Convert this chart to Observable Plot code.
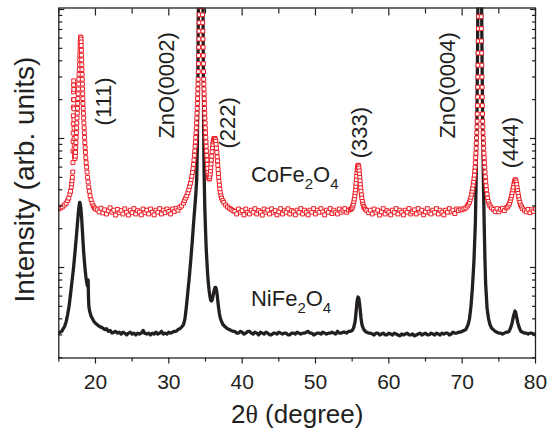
<!DOCTYPE html>
<html><head><meta charset="utf-8">
<script src="https://cdn.jsdelivr.net/npm/d3@7"></script>
<script src="https://cdn.jsdelivr.net/npm/@observablehq/plot@0.6"></script>
<style>html,body{margin:0;padding:0;background:#fff;}</style>
</head><body><div id="chart"></div>
<script>
// ---- data: [2θ (degree), intensity (arb. units)] ----
const niFe2O4 = [
[15.0,0.31],[15.2,0.315],[15.4,0.32],[15.6,0.335],[15.8,0.35],[16.0,0.38],[16.2,0.43],[16.4,0.50],[16.6,0.62],[16.8,0.78],[17.0,0.98],[17.2,1.30],[17.4,1.75],[17.6,2.4],[17.7,2.8],[17.8,3.1],[17.85,3.2],[17.9,3.15],[18.0,2.9],[18.1,2.5],[18.2,2.0],[18.3,1.6],[18.4,1.3],[18.5,1.1],[18.6,0.95],[18.7,0.84],[18.8,0.77],[18.9,0.72],[18.95,0.80],[19.0,0.80],[19.05,0.58],[19.1,0.50],[19.2,0.46],[19.4,0.42],[19.6,0.40],[19.8,0.38],[20.0,0.37],[20.25,0.36],[20.5,0.35],[20.75,0.345],[21.0,0.34],[21.25,0.33],[21.5,0.335],[21.75,0.32],[22.0,0.325],[22.25,0.31],[22.5,0.315],[22.75,0.32],[23.0,0.31],[23.25,0.315],[23.5,0.305],[23.75,0.315],[24.0,0.31],[24.25,0.30],[24.5,0.31],[24.75,0.315],[25.0,0.305],[25.25,0.31],[25.5,0.30],[25.75,0.31],[26.0,0.305],[26.25,0.31],[26.5,0.325],[26.7,0.31],[27.0,0.305],[27.25,0.31],[27.5,0.30],[27.75,0.31],[28.0,0.305],[28.25,0.315],[28.5,0.305],[28.75,0.31],[29.0,0.32],[29.25,0.305],[29.5,0.31],[29.75,0.305],[30.0,0.315],[30.25,0.31],[30.5,0.315],[30.75,0.32],[31.0,0.32],[31.25,0.33],[31.5,0.335],[31.75,0.345],[32.0,0.36],[32.2,0.40],[32.4,0.50],[32.6,0.65],[32.8,0.85],[33.0,1.15],[33.2,1.6],[33.4,2.3],[33.6,3.2],[33.7,3.8],[33.8,4.8],[33.9,9],[33.95,20],[34.0,60],[34.05,150],[34.1,400],[34.2,1200],[34.35,2500],[34.5,1200],[34.6,400],[34.65,150],[34.7,40],[34.75,12],[34.8,6],[34.9,3],[35.0,2.0],[35.1,1.4],[35.2,1.1],[35.3,0.88],[35.4,0.75],[35.5,0.66],[35.6,0.6],[35.7,0.56],[35.8,0.55],[35.9,0.56],[36.0,0.59],[36.1,0.63],[36.2,0.67],[36.3,0.70],[36.4,0.70],[36.5,0.67],[36.6,0.61],[36.7,0.54],[36.8,0.48],[36.9,0.44],[37.0,0.41],[37.2,0.38],[37.4,0.36],[37.6,0.35],[38.0,0.335],[38.25,0.33],[38.5,0.325],[38.75,0.32],[39.0,0.32],[39.25,0.31],[39.5,0.31],[39.75,0.32],[40.0,0.315],[40.25,0.305],[40.5,0.31],[40.75,0.32],[41.0,0.32],[41.25,0.31],[41.5,0.305],[41.75,0.315],[42.0,0.31],[42.25,0.30],[42.5,0.315],[42.75,0.31],[43.0,0.305],[43.25,0.315],[43.5,0.31],[43.75,0.30],[44.0,0.30],[44.25,0.31],[44.5,0.31],[44.75,0.305],[45.0,0.315],[45.25,0.31],[45.5,0.305],[45.75,0.31],[46.0,0.31],[46.25,0.30],[46.5,0.30],[46.75,0.31],[47.0,0.31],[47.25,0.305],[47.5,0.315],[47.75,0.31],[48.0,0.305],[48.25,0.31],[48.5,0.31],[48.75,0.315],[49.0,0.32],[49.25,0.31],[49.5,0.31],[49.75,0.30],[50.0,0.305],[50.25,0.31],[50.5,0.31],[50.75,0.305],[51.0,0.315],[51.25,0.31],[51.5,0.305],[51.75,0.31],[52.0,0.31],[52.25,0.315],[52.5,0.31],[52.75,0.305],[53.0,0.32],[53.25,0.31],[53.5,0.31],[53.75,0.315],[54.0,0.315],[54.25,0.31],[54.5,0.32],[54.75,0.32],[55.0,0.325],[55.2,0.34],[55.4,0.38],[55.5,0.43],[55.6,0.50],[55.7,0.56],[55.8,0.59],[55.9,0.58],[56.0,0.53],[56.1,0.47],[56.2,0.41],[56.3,0.37],[56.4,0.35],[56.6,0.33],[56.8,0.32],[57.0,0.315],[57.25,0.31],[57.5,0.31],[57.75,0.305],[58.0,0.30],[58.25,0.31],[58.5,0.31],[58.75,0.30],[59.0,0.305],[59.25,0.31],[59.5,0.30],[59.75,0.30],[60.0,0.31],[60.25,0.305],[60.5,0.30],[60.75,0.31],[61.0,0.305],[61.25,0.30],[61.5,0.295],[61.75,0.305],[62.0,0.30],[62.25,0.305],[62.5,0.31],[62.75,0.30],[63.0,0.30],[63.25,0.305],[63.5,0.295],[63.75,0.30],[64.0,0.305],[64.25,0.31],[64.5,0.30],[64.75,0.305],[65.0,0.31],[65.25,0.30],[65.5,0.30],[65.75,0.31],[66.0,0.305],[66.25,0.30],[66.5,0.31],[66.75,0.305],[67.0,0.30],[67.25,0.31],[67.5,0.305],[67.75,0.31],[68.0,0.31],[68.25,0.30],[68.5,0.305],[68.75,0.315],[69.0,0.31],[69.25,0.31],[69.5,0.315],[69.75,0.315],[70.0,0.32],[70.25,0.325],[70.5,0.33],[70.8,0.36],[71.0,0.40],[71.2,0.50],[71.4,0.70],[71.6,1.1],[71.8,2.2],[71.9,4.5],[72.0,12],[72.1,50],[72.2,300],[72.4,2500],[72.6,300],[72.7,50],[72.8,12],[72.9,4.5],[73.0,2.2],[73.1,1.2],[73.2,0.75],[73.4,0.48],[73.6,0.40],[73.8,0.36],[74.0,0.34],[74.25,0.33],[74.5,0.32],[74.75,0.315],[75.0,0.31],[75.25,0.31],[75.5,0.305],[75.75,0.31],[76.0,0.315],[76.2,0.315],[76.4,0.32],[76.6,0.34],[76.8,0.37],[77.0,0.42],[77.1,0.44],[77.2,0.46],[77.3,0.45],[77.4,0.42],[77.6,0.37],[77.8,0.34],[78.0,0.32],[78.25,0.315],[78.5,0.31],[78.75,0.31],[79.0,0.305],[79.25,0.31],[79.5,0.31],[79.75,0.305],[80.0,0.30]
];

const coFe2O4 = [
[15.0,2.85],[15.25,2.9],[15.5,2.95],[15.75,3.05],[16.0,3.15],[16.2,3.3],[16.35,3.45],[16.5,3.7],[16.6,3.9],[16.7,4.2],[16.75,4.45],[16.8,4.7],[16.85,5.0],[16.9,5.5],
[16.92,6.5],[16.94,8],[16.95,9.5],[16.96,11],[16.97,13],[16.98,15],[16.99,17.5],[17.0,20],[17.01,23],[17.02,26],[17.03,28],[17.04,24],[17.05,20],[17.06,17],[17.07,14],[17.08,12],[17.09,10],[17.1,8.8],[17.12,7.8],[17.15,7.2],[17.2,7.0],
[17.25,7.3],[17.28,7.8],[17.31,8.5],[17.34,9.3],[17.37,10.2],[17.4,11.1],[17.43,12.1],[17.46,13.2],[17.49,14.4],[17.52,15.7],[17.55,17.1],[17.58,18.7],[17.61,20.4],[17.64,22.2],[17.67,24.2],[17.7,26.4],[17.73,28.8],[17.76,31.4],[17.79,34.2],[17.82,37.3],[17.85,40.7],[17.87,44.3],[17.89,48.3],[17.91,52.6],[17.93,56],[17.95,59],[17.97,61],[18.0,61],[18.02,59],[18.04,56],[18.06,52.6],[18.08,48.3],[18.1,44.3],[18.12,40.7],[18.14,37.3],[18.16,34.2],[18.18,31.4],[18.2,28.8],[18.22,26.4],[18.24,24.2],[18.26,22.2],[18.28,20.4],[18.3,18.7],[18.33,17.1],[18.36,15.7],[18.39,14.4],[18.42,13.2],[18.45,12.1],[18.48,11.1],[18.51,10.2],[18.55,9.3],[18.59,8.5],[18.63,7.8],[18.68,7.1],[18.73,6.5],[18.79,6.0],[18.85,5.5],[18.92,5.0],[19.0,4.6],[19.08,4.2],[19.17,3.9],[19.27,3.6],[19.4,3.35],[19.55,3.15],[19.7,3.0],[19.85,2.9],[20.0,2.85],[20.25,2.8],
[20.5,2.7],[20.75,2.88],[21.0,2.65],[21.25,2.8],[21.5,2.6],[21.75,2.75],[22.0,2.9],[22.25,2.68],[22.5,2.78],[22.75,2.55],[23.0,2.82],[23.25,2.66],[23.5,2.76],[23.75,2.6],[24.0,2.85],[24.25,2.68],[24.5,2.55],[24.75,2.78],[25.0,2.66],[25.25,2.86],[25.5,2.6],[25.75,2.76],[26.0,2.68],[26.25,2.56],[26.5,2.84],[26.75,2.66],[27.0,2.78],[27.25,2.6],[27.5,2.84],[27.75,2.68],[28.0,2.56],[28.25,2.78],[28.5,2.68],[28.75,2.86],[29.0,2.6],[29.25,2.78],[29.5,2.66],[29.75,2.84],[30.0,2.72],[30.25,2.6],[30.5,2.84],[30.75,2.72],[31.0,2.88],[31.25,2.78],[31.5,2.92],[31.75,3.0],
[32.0,3.15],[32.15,3.3],[32.3,3.45],[32.45,3.6],[32.6,3.8],[32.72,4.0],[32.84,4.25],[32.95,4.5],[33.05,4.8],[33.14,5.1],[33.22,5.45],[33.3,5.85],[33.37,6.3],[33.43,6.8],[33.49,7.4],[33.54,8.0],[33.59,8.7],[33.63,9.4],[33.67,10.2],[33.71,11.1],[33.75,12.1],[33.78,13.2],[33.81,14.4],[33.84,15.7],[33.87,17.1],[33.9,18.7],[33.92,20.4],[33.94,22.2],[33.96,24.2],[33.98,26.4],[34.0,28.8],[34.02,33],[34.04,38],[34.06,44],[34.08,51],[34.1,59],[34.12,68],[34.14,79],[34.16,91],[34.18,105],[34.25,400],[34.38,2000],[34.51,400],[34.58,105],[34.6,91],[34.62,79],[34.64,68],[34.66,59],[34.68,51],[34.7,44],[34.72,38],[34.74,33],[34.76,28.8],[34.78,26.4],[34.8,24.2],[34.82,22.2],[34.84,20.4],[34.86,18.7],[34.88,17.1],[34.9,15.7],[34.92,14.4],[34.95,13.2],[34.98,12.1],[35.01,11.1],[35.04,10.2],[35.07,9.4],[35.1,8.7],[35.13,8.0],[35.17,7.4],[35.21,6.8],[35.25,6.3],[35.29,5.85],[35.33,5.45],[35.38,5.15],[35.44,4.95],[35.5,4.85],[35.56,4.9],[35.6,5.05],[35.64,5.3],[35.68,5.6],[35.72,5.95],[35.76,6.35],[35.8,6.8],[35.85,7.3],[35.9,7.9],[35.95,8.5],[36.0,9.0],[36.05,9.4],[36.1,9.7],[36.15,9.9],[36.2,10.0],[36.25,10.0],[36.3,10.0],[36.35,9.8],[36.4,9.5],[36.45,9.0],[36.5,8.4],[36.55,7.8],[36.6,7.2],[36.64,6.7],[36.68,6.2],[36.72,5.75],[36.76,5.35],[36.8,5.0],[36.85,4.65],[36.9,4.35],[36.96,4.05],[37.02,3.8],[37.1,3.6],[37.2,3.45],[37.35,3.3],[37.5,3.2],[37.75,3.05],[38.0,2.95],[38.25,2.88],[38.5,2.82],[38.75,2.76],
[39.0,2.72],[39.25,2.6],[39.5,2.84],[39.75,2.68],[40.0,2.76],[40.25,2.56],[40.5,2.84],[40.75,2.68],[41.0,2.6],[41.25,2.78],[41.5,2.68],[41.75,2.86],[42.0,2.6],[42.25,2.76],[42.5,2.68],[42.75,2.55],[43.0,2.84],[43.25,2.68],[43.5,2.78],[43.75,2.6],[44.0,2.85],[44.25,2.68],[44.5,2.76],[44.75,2.56],[45.0,2.7],[45.25,2.86],[45.5,2.6],[45.75,2.76],[46.0,2.68],[46.25,2.85],[46.5,2.6],[46.75,2.76],[47.0,2.7],[47.25,2.56],[47.5,2.78],[47.75,2.68],[48.0,2.86],[48.25,2.6],[48.5,2.78],[48.75,2.68],[49.0,2.56],[49.25,2.78],[49.5,2.68],[49.75,2.86],[50.0,2.6],[50.25,2.78],[50.5,2.68],[50.75,2.86],[51.0,2.7],[51.25,2.56],[51.5,2.78],[51.75,2.68],[52.0,2.86],[52.25,2.62],[52.5,2.78],[52.75,2.68],[53.0,2.6],[53.25,2.84],[53.5,2.68],[53.75,2.78],[54.0,2.86],[54.25,2.68],[54.5,2.78],[54.75,2.82],
[54.9,2.85],[55.0,2.9],[55.08,3.0],[55.16,3.1],[55.23,3.25],[55.3,3.4],[55.36,3.6],[55.41,3.8],[55.46,4.0],[55.5,4.25],[55.54,4.5],[55.58,4.8],[55.62,5.1],[55.66,5.45],[55.7,5.75],[55.74,6.0],[55.78,6.15],[55.83,6.2],[55.88,6.1],[55.92,5.9],[55.96,5.6],[56.0,5.3],[56.04,5.0],[56.08,4.7],[56.12,4.4],[56.16,4.15],[56.21,3.9],[56.26,3.65],[56.32,3.45],[56.39,3.25],[56.47,3.1],[56.56,2.98],[56.66,2.9],[56.8,2.82],[57.0,2.76],
[57.25,2.66],[57.5,2.78],[57.75,2.6],[58.0,2.84],[58.25,2.68],[58.5,2.78],[58.75,2.55],[59.0,2.7],[59.25,2.86],[59.5,2.6],[59.75,2.76],[60.0,2.68],[60.25,2.56],[60.5,2.78],[60.75,2.68],[61.0,2.86],[61.25,2.6],[61.5,2.78],[61.75,2.68],[62.0,2.56],[62.25,2.78],[62.5,2.68],[62.75,2.86],[63.0,2.6],[63.25,2.7],[63.5,2.8],[63.75,2.6],[64.0,2.86],[64.25,2.68],[64.5,2.78],[64.75,2.56],[65.0,2.7],[65.25,2.86],[65.5,2.68],[65.75,2.6],[66.0,2.78],[66.25,2.68],[66.5,2.86],[66.75,2.6],[67.0,2.78],[67.25,2.68],[67.5,2.56],[67.75,2.78],[68.0,2.68],[68.25,2.86],[68.5,2.7],[68.75,2.78],[69.0,2.62],[69.25,2.84],[69.5,2.76],[69.75,2.84],
[70.0,2.8],[70.25,2.85],[70.5,2.9],[70.7,3.0],[70.85,3.1],[71.0,3.2],[71.1,3.35],[71.2,3.5],[71.28,3.7],[71.36,3.9],[71.43,4.1],[71.5,4.35],[71.56,4.6],[71.62,4.9],[71.67,5.2],[71.72,5.6],[71.76,6.0],[71.8,6.5],[71.84,7.1],[71.87,7.7],[71.9,8.4],[71.93,9.2],[71.96,10.1],[71.99,11.1],[72.02,12.3],[72.04,13.6],[72.06,15.5],[72.08,18],[72.1,21],[72.12,25],[72.14,30],[72.16,37],[72.18,46],[72.2,57],[72.22,71],[72.24,88],[72.26,110],[72.3,300],[72.42,1500],[72.54,300],[72.58,110],[72.6,88],[72.62,71],[72.64,57],[72.66,46],[72.68,37],[72.7,30],[72.72,25],[72.74,21],[72.76,18],[72.78,15.5],[72.8,13.6],[72.82,12.3],[72.85,11.1],[72.88,10.1],[72.91,9.2],[72.94,8.4],[72.97,7.7],[73.0,7.1],[73.04,6.5],[73.08,6.0],[73.12,5.5],[73.16,5.05],[73.21,4.65],[73.26,4.3],[73.32,4.0],[73.39,3.7],[73.47,3.45],[73.56,3.25],[73.67,3.1],[73.8,3.0],[74.0,2.9],[74.25,2.82],
[74.5,2.72],[74.75,2.86],[75.0,2.7],[75.25,2.82],[75.5,2.88],[75.75,2.76],
[76.0,2.9],[76.2,2.95],[76.35,3.05],[76.47,3.15],[76.57,3.3],[76.66,3.45],[76.74,3.6],[76.82,3.8],[76.9,4.0],[76.98,4.2],[77.06,4.45],[77.14,4.65],[77.22,4.78],[77.3,4.75],[77.37,4.6],[77.44,4.4],[77.5,4.15],[77.56,3.95],[77.62,3.75],[77.69,3.55],[77.77,3.35],[77.86,3.2],[77.96,3.05],[78.1,2.95],[78.25,2.85],
[78.5,2.78],[78.75,2.7],[79.0,2.82],[79.25,2.66],[79.5,2.8],[79.75,2.72],[80.0,2.85]
];

const xDomain = [15, 80];
const yDomain = [0.1988, 102.7];
const xMajorTicks = [20, 30, 40, 50, 60, 70, 80];
const xMinorTicks = [15, 25, 35, 45, 55, 65, 75];
const yMajorTicks = [1, 10, 100];
const yMinorTicks = [0.2,0.3,0.4,0.5,0.6,0.7,0.8,0.9,2,3,4,5,6,7,8,9,20,30,40,50,60,70,80,90];

const peakLabels = ["(111)", "ZnO(0002)", "(222)", "(333)", "ZnO(0004)", "(444)"];
const peakLabelTheta = [21.2, 29.7, 38.1, 56.0, 68.1, 76.6];
const peakLabelIntensity = [19.4, 25.8, 13.2, 11.1, 25.8, 9.3];

const sampleNames = ["CoFe2O4", "NiFe2O4"];
const sampleLabelTheta = [41.2, 41.2];
const sampleLabelIntensity = [4.56, 0.50];

const xTitle = "2θ (degree)";
const yTitle = "Intensity (arb. units)";

// ---- styles ----
const ink = "#231f20";
const red = "#ed1c24";
const font = "'Liberation Sans', Arial, Helvetica, sans-serif";
const noLabel = () => "";

const chart = Plot.plot({
  width: 555, height: 436,
  marginLeft: 58.3, marginRight: 20, marginTop: 7.5, marginBottom: 78.5,
  style: {fontFamily: font, fontSize: "21px", color: ink, background: "#fff", overflow: "visible"},
  x: {type: "linear", domain: xDomain, label: null},
  y: {type: "log", domain: yDomain, label: null},
  marks: [
    Plot.line(niFe2O4, {x: d => d[0], y: d => d[1], stroke: ink, strokeWidth: 3.3, strokeLinejoin: "round", clip: true}),
    Plot.dot(coFe2O4, {x: d => d[0], y: d => d[1], symbol: "square", r: 2.2, stroke: red, fill: "#fff", strokeWidth: 1, clip: true}),
    Plot.frame({stroke: ink, strokeWidth: 1.3}),
    Plot.axisX(xMajorTicks, {anchor: "bottom", tickSize: 6, tickPadding: 10, tickFormat: d => String(d), label: null, fontSize: 21, strokeWidth: 1.2}),
    Plot.axisX(xMinorTicks, {anchor: "bottom", tickSize: 4, tickFormat: noLabel, label: null, strokeWidth: 1.2}),
    Plot.axisX(xMajorTicks, {anchor: "top", tickSize: -7, tickFormat: noLabel, label: null, strokeWidth: 1.2}),
    Plot.axisX(xMinorTicks, {anchor: "top", tickSize: -5, tickFormat: noLabel, label: null, strokeWidth: 1.2}),
    Plot.axisY(yMajorTicks, {anchor: "left", tickSize: -6, tickFormat: noLabel, label: null, strokeWidth: 1.2}),
    Plot.axisY(yMinorTicks, {anchor: "left", tickSize: -4, tickFormat: noLabel, label: null, strokeWidth: 1.2}),
    Plot.axisY(yMajorTicks, {anchor: "right", tickSize: -6, tickFormat: noLabel, label: null, strokeWidth: 1.2}),
    Plot.axisY(yMinorTicks, {anchor: "right", tickSize: -4, tickFormat: noLabel, label: null, strokeWidth: 1.2}),
    Plot.text(peakLabels, {x: (d, i) => peakLabelTheta[i], y: (d, i) => peakLabelIntensity[i], text: d => d, rotate: -90, fontSize: 22, fill: ink}),
    Plot.text(sampleNames, {x: (d, i) => sampleLabelTheta[i], y: (d, i) => sampleLabelIntensity[i], text: d => d, textAnchor: "start", lineAnchor: "bottom", fontSize: 22, fill: ink}),
    Plot.text([xTitle], {frameAnchor: "bottom", textAnchor: "middle", lineAnchor: "bottom", dy: 64.5, fontSize: 26, fill: ink}),
    Plot.text([yTitle], {frameAnchor: "left", rotate: -90, textAnchor: "middle", lineAnchor: "bottom", dx: -24.8, dy: -3.5, fontSize: 28, fill: ink})
  ]
});

// subscripts and theta glyph as tspans (text stays real text)
const NS = "http://www.w3.org/2000/svg";
function addSpan(t, str, attrs) {
  const s = document.createElementNS(NS, "tspan");
  s.textContent = str;
  for (const k in attrs) s.setAttribute(k, attrs[k]);
  t.appendChild(s);
}
chart.querySelectorAll("text").forEach(t => {
  const s = t.textContent;
  const m = /^(Co|Ni)Fe2O4$/.exec(s);
  if (m) {
    t.textContent = "";
    addSpan(t, m[1] + "Fe", {});
    addSpan(t, "2", {"font-size": 15, dy: 7});
    addSpan(t, "O", {dy: -7});
    addSpan(t, "4", {"font-size": 15, dy: 7});
  } else if (s === xTitle) {
    t.textContent = "";
    addSpan(t, "2", {});
    addSpan(t, "θ", {"font-family": "'Liberation Serif', 'DejaVu Serif', serif"});
    addSpan(t, " (degree)", {});
  }
});
document.getElementById("chart").appendChild(chart);
</script>
</body></html>
